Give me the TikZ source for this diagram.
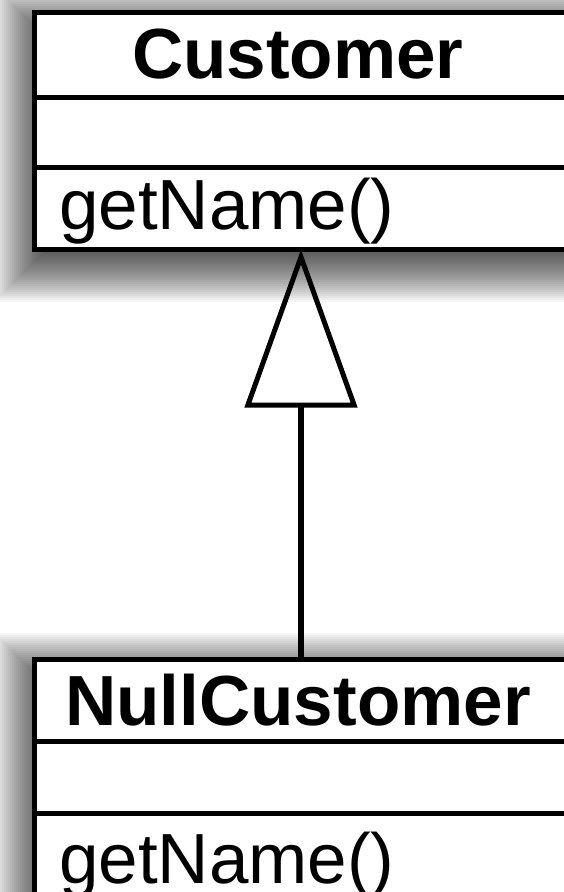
\documentclass[tikz,border=0pt]{standalone}
\usepackage{fontspec}
\setmainfont{Liberation Sans}
\usetikzlibrary{arrows.meta}
\begin{document}
\begin{tikzpicture}[x=1pt,y=-1pt,
  umlbox/.style={draw=black, line width=5pt, fill=white, rectangle, inner sep=0pt, outer sep=0pt, anchor=north west},
  divider/.style={line width=5pt, line cap=butt},
  titletext/.style={font=\fontsize{71}{71}\selectfont\bfseries, inner sep=0pt, anchor=base west},
  optext/.style={font=\fontsize{71}{71}\selectfont, inner sep=0pt, anchor=base west},
  inherit/.style={line width=5.5pt, -{Triangle[open, length=158pt, width=112pt, line width=5pt]}},
  shadowlayer/.style={fill=black, fill opacity=0.035, draw=none}
]
\useasboundingbox (0,0) rectangle (564,892);
\clip (0,0) rectangle (564,892);
\fill[white] (0,0) rectangle (564,892);
% blurred shadows
\foreach \i in {0,...,36} {
  \pgfmathsetmacro\e{-36+2*\i}
  \fill[shadowlayer] (30-\e, 22-\e) rectangle (604+\e, 266+\e);
  \fill[shadowlayer] (30-\e, 669-\e) rectangle (604+\e, 1000+\e);
}
% class Customer
\node[umlbox, minimum width=566pt, minimum height=237pt] (cust) at (34,12.5) {};
\draw[divider] (34,97) -- (600,97);
\draw[divider] (34,167) -- (600,167);
\node[titletext] (custname) at (132,78) {Customer};
\node[optext] (custop) at (59,229) {getName()};
% class NullCustomer
\node[umlbox, minimum width=566pt, minimum height=340pt] (null) at (34,659) {};
\draw[divider] (34,741) -- (600,741);
\draw[divider] (34,813) -- (600,813);
\node[titletext] (nullname) at (65,725) {NullCustomer};
\node[optext] (nullop) at (59,883) {getName()};
% generalization
\coordinate (ax) at (301,0);
\draw[inherit] (null.north -| ax) -- (cust.south -| ax);
\end{tikzpicture}
\end{document}
